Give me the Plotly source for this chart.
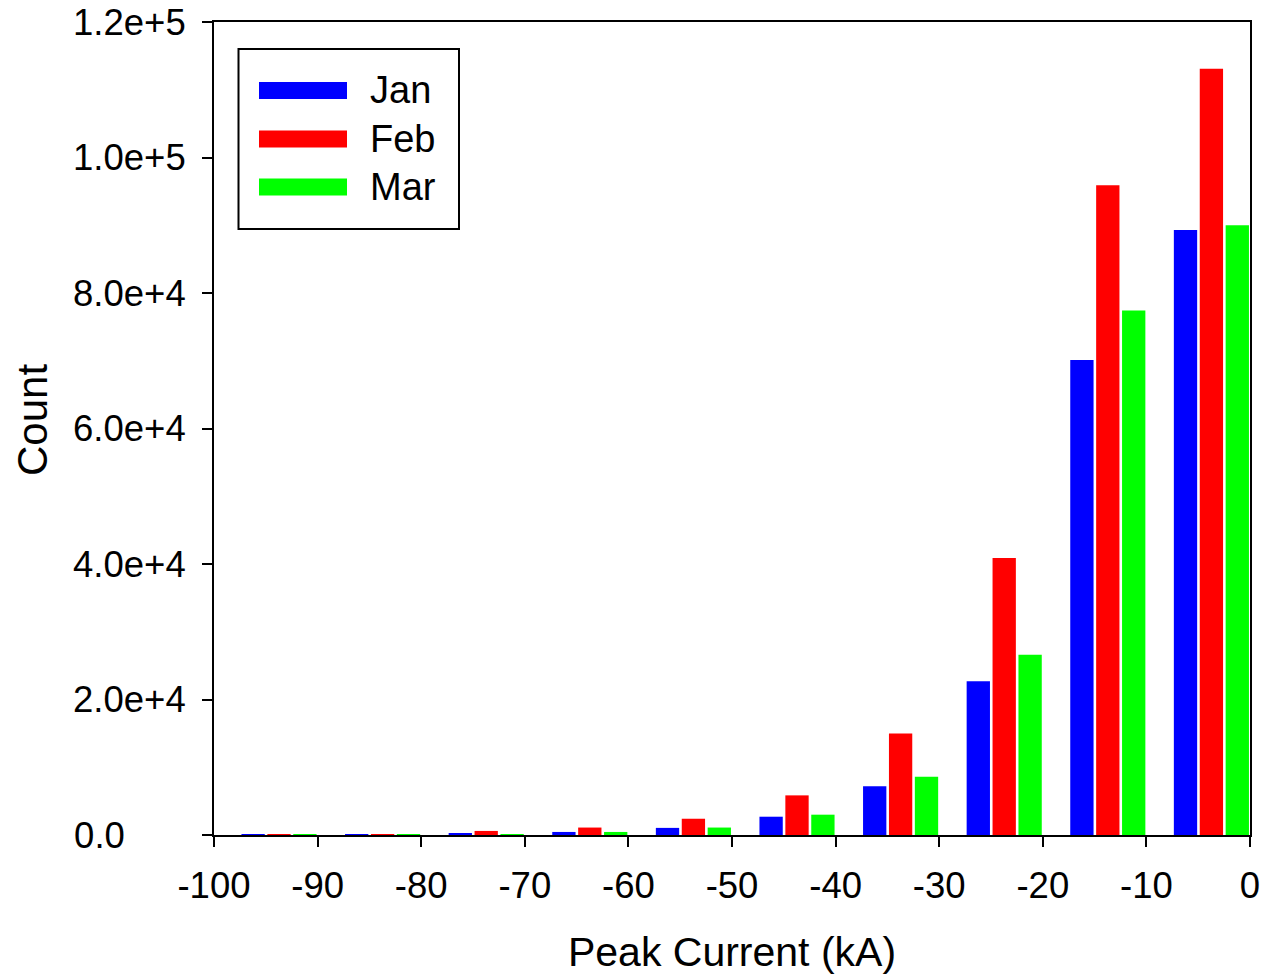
import plotly.graph_objects as go

# ---- data ----
bin_left = [-100, -90, -80, -70, -60, -50, -40, -30, -20, -10]
jan = [20, 60, 150, 450, 1050, 2700, 7200, 22700, 70100, 89300]
feb = [100, 120, 600, 1100, 2400, 5850, 15000, 40900, 95900, 113100]
mar = [20, 60, 120, 450, 1100, 3000, 8600, 26600, 77400, 90000]
series_names = ["Jan", "Feb", "Mar"]
series_colors = ["#0000ff", "#ff0000", "#00ff00"]
y_tickvals = [0, 20000, 40000, 60000, 80000, 100000, 120000]
y_ticktext = ["0.0" + "\u00a0" * 6, "2.0e+4", "4.0e+4", "6.0e+4", "8.0e+4", "1.0e+5", "1.2e+5"]
x_tickvals = [-100, -90, -80, -70, -60, -50, -40, -30, -20, -10, 0]
x_ticktext = ["-100", "-90", "-80", "-70", "-60", "-50", "-40", "-30", "-20", "-10", "0"]

FONT = "Liberation Sans, Arial, sans-serif"
W, H = 1262, 975
ML, MR, MT, MB = 214, 12, 22, 140
PW, PH = W - ML - MR, H - MT - MB

def px_x(p):
    return (p - ML) / PW

def px_y(p):
    return 1 - (p - MT) / PH

fig = go.Figure()
offsets = [2.65, 5.15, 7.65]
for name, vals, col, off in zip(series_names, [jan, feb, mar], series_colors, offsets):
    fig.add_trace(go.Bar(
        x=bin_left, y=vals, name=name,
        offset=off, width=2.25,
        marker=dict(color=col, line=dict(width=0)),
        showlegend=False,
    ))

# manual legend (wide swatches like the original)
shapes = [dict(type="rect", xref="paper", yref="paper",
               x0=px_x(238.5), x1=px_x(459), y0=px_y(49), y1=px_y(229),
               line=dict(color="black", width=2), fillcolor="white", layer="above")]
annotations = []
centers = [90.5, 139, 187]
for name, col, cy in zip(series_names, series_colors, centers):
    shapes.append(dict(type="rect", xref="paper", yref="paper",
                       x0=px_x(259), x1=px_x(347), y0=px_y(cy - 8.5), y1=px_y(cy + 8.5),
                       line=dict(width=0), fillcolor=col, layer="above"))
    annotations.append(dict(text=name, xref="paper", yref="paper",
                            x=px_x(368), y=px_y(cy), xanchor="left", yanchor="middle",
                            showarrow=False, font=dict(family=FONT, size=38, color="black")))

# y-axis title placed as text to match original position
annotations.append(dict(text="Count", xref="paper", yref="paper",
                        x=px_x(32), y=px_y(420), xanchor="center", yanchor="middle",
                        textangle=-90, showarrow=False,
                        font=dict(family=FONT, size=42, color="black")))

fig.update_layout(
    width=W, height=H,
    margin=dict(l=ML, r=MR, t=MT, b=MB, autoexpand=False),
    paper_bgcolor="white", plot_bgcolor="white",
    barmode="overlay",
    font=dict(family=FONT, size=36, color="black"),
    shapes=shapes, annotations=annotations,
    xaxis=dict(range=[-100, 0], tickvals=x_tickvals, ticktext=x_ticktext, ticks="outside", ticklen=10,
               tickwidth=2, tickcolor="black", showline=True, linecolor="black",
               linewidth=2, mirror=True, showgrid=False, zeroline=False,
               tickfont=dict(family=FONT, size=36.5), ticklabelstandoff=7,
               title=dict(text="Peak Current (kA)", font=dict(family=FONT, size=41), standoff=34)),
    yaxis=dict(range=[0, 120000], tickvals=y_tickvals, ticktext=y_ticktext, ticks="outside",
               ticklen=10, tickwidth=2, tickcolor="black", showline=True, linecolor="black",
               linewidth=2, mirror=True, showgrid=False, zeroline=False,
               tickfont=dict(family=FONT, size=36.5), ticklabelstandoff=9),
)

fig.write_html("out.html")
